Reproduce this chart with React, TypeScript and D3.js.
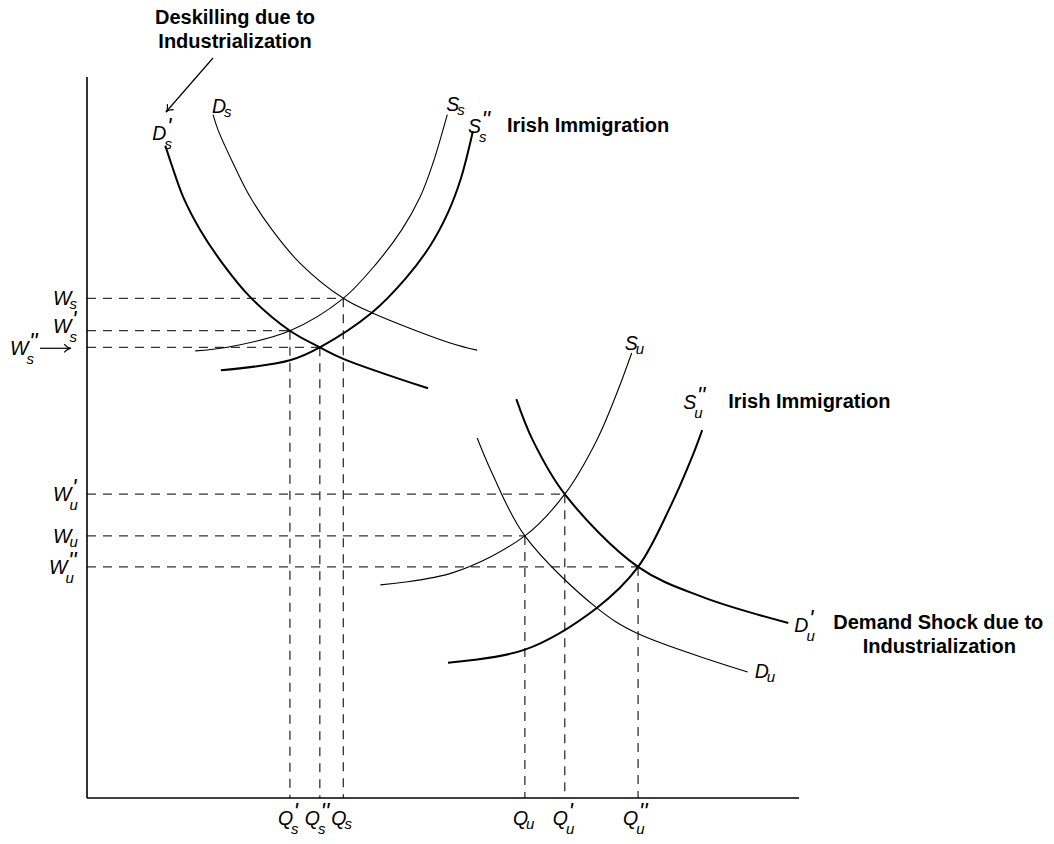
import React from 'react';
import * as d3 from 'd3';

// ---- Data (quantity q, wage w) in chart units 0..100 ----
const dsPrime: [number, number][] = [[11.0, 90.6], [11.8, 88.2], [13.5, 83.5], [15.9, 78.9], [19.0, 74.3], [22.9, 69.6], [28.5, 64.9], [32.7, 62.6], [36.0, 61.0], [47.9, 56.9]];
const ds: [number, number][] = [[17.7, 94.9], [18.4, 92.8], [20.5, 88.2], [22.9, 83.5], [26.0, 78.9], [29.9, 74.3], [36.0, 69.4], [40.0, 67.4], [51.0, 63.2], [54.8, 62.2]];
const ss: [number, number][] = [[15.2, 62.1], [19.7, 62.6], [28.5, 64.9], [36.0, 69.4], [40.7, 74.3], [44.2, 78.9], [46.8, 83.5], [48.6, 88.2], [50.0, 92.8], [50.6, 94.9]];
const ssDouble: [number, number][] = [[18.8, 59.4], [28.5, 60.8], [32.7, 62.6], [40.0, 67.4], [44.7, 72.1], [48.2, 76.7], [50.7, 81.3], [52.5, 86.0], [54.2, 92.6]];
const su: [number, number][] = [[41.2, 29.6], [51.4, 31.3], [61.5, 36.4], [67.1, 42.2], [71.6, 49.7], [74.6, 56.7], [76.5, 61.8]];
const suDouble: [number, number][] = [[50.7, 18.8], [61.5, 20.6], [71.6, 26.4], [77.4, 32.1], [81.9, 40.4], [85.0, 47.4], [86.4, 51.1]];
const du: [number, number][] = [[54.8, 50.0], [56.9, 45.1], [61.5, 36.4], [71.6, 26.4], [77.2, 22.9], [92.8, 17.5]];
const duPrime: [number, number][] = [[60.3, 55.4], [62.6, 49.7], [67.1, 42.2], [77.4, 32.1], [86.5, 27.9], [98.5, 24.3]];

// equilibria
const eqQuantity = [36.0, 28.5, 32.7, 61.5, 67.1, 77.4];
const eqWage = [69.4, 64.9, 62.6, 36.4, 42.2, 32.1];
const eqSub = ['s', 's', 's', 'u', 'u', 'u'];
const eqPrime = ['', "'", "''", '', "'", "''"];

const annotDeskilling = ['Deskilling due to', 'Industrialization'];
const annotDemand = ['Demand Shock due to', 'Industrialization'];
const annotIrish = 'Irish Immigration';

const W = 1054, H = 844;
const x = d3.scaleLinear().domain([0, 100]).range([87, 799]);
const y = d3.scaleLinear().domain([0, 100]).range([798, 78]);
const line = d3.line<[number, number]>().x(d => x(d[0])).y(d => y(d[1])).curve(d3.curveCatmullRom.alpha(0.5));

const MATH_FONT = 'Liberation Sans, Arial, sans-serif';
const BOLD_FONT = 'Liberation Sans, Arial, sans-serif';
const FS = 19.5;
const SUBFS = 15;
const letterW: Record<string, number> = { W: 0.944, D: 0.722, S: 0.667, Q: 0.778 };

function MathLabel({ px, py, main, sub, sup }: { px: number; py: number; main: string; sub?: string; sup?: string }) {
  const mw = letterW[main] * FS;
  return (
    <g fontFamily={MATH_FONT} fill="#000" fontStyle="italic">
      <text x={px} y={py} fontSize={FS}>{main}</text>
      {sub ? <text x={px + mw - 2} y={py + (sup ? 9 : 4)} fontSize={SUBFS}>{sub}</text> : null}
      {sup ? <text x={px + mw + 0.5} y={py - 5} fontSize={23}>{sup}</text> : null}
    </g>
  );
}

function Arrow({ x1, y1, x2, y2 }: { x1: number; y1: number; x2: number; y2: number }) {
  const ang = Math.atan2(y2 - y1, x2 - x1);
  const L = 8, a = 0.55;
  const p1 = [x2 - L * Math.cos(ang - a), y2 - L * Math.sin(ang - a)];
  const p2 = [x2 - L * Math.cos(ang + a), y2 - L * Math.sin(ang + a)];
  const c = [x2 - 3 * Math.cos(ang), y2 - 3 * Math.sin(ang)];
  return (
    <g stroke="#000" strokeWidth={1.2} fill="none">
      <line x1={x1} y1={y1} x2={x2} y2={y2} />
      <path d={`M${p1[0]},${p1[1]} Q${c[0]},${c[1]} ${x2},${y2} Q${c[0]},${c[1]} ${p2[0]},${p2[1]}`} />
    </g>
  );
}

type CurveDef = { pts: [number, number][]; thick: boolean; main: string; sub: string; sup?: string; end: 'start' | 'end'; dx: number; dy: number };
const curveDefs: CurveDef[] = [
  { pts: dsPrime, thick: true, main: 'D', sub: 's', sup: "'", end: 'start', dx: -13, dy: -6 },
  { pts: ds, thick: false, main: 'D', sub: 's', end: 'start', dx: -1, dy: -2 },
  { pts: ss, thick: false, main: 'S', sub: 's', end: 'end', dx: -1, dy: -4 },
  { pts: ssDouble, thick: true, main: 'S', sub: 's', sup: "''", end: 'end', dx: -5, dy: 2 },
  { pts: su, thick: false, main: 'S', sub: 'u', end: 'end', dx: -7, dy: -3 },
  { pts: suDouble, thick: true, main: 'S', sub: 'u', sup: "''", end: 'end', dx: -19, dy: -21 },
  { pts: du, thick: false, main: 'D', sub: 'u', end: 'end', dx: 7, dy: 6 },
  { pts: duPrime, thick: true, main: 'D', sub: 'u', sup: "'", end: 'end', dx: 6, dy: 9 },
];

export default function App() {
  const x0 = x(0), y0 = y(0);
  const ssEnd = ssDouble[ssDouble.length - 1];
  const suEnd = suDouble[suDouble.length - 1];
  const duEnd = duPrime[duPrime.length - 1];
  return (
    <svg width={W} height={H} style={{ position: 'absolute', left: 0, top: 0, background: '#fff' }}>
      <rect width={W} height={H} fill="#fff" />
      {/* dashed guides */}
      <g stroke="#333" strokeWidth={1.3} strokeDasharray="9,7" fill="none">
        {eqQuantity.map((q, i) => (
          <g key={i}>
            <line x1={x0} y1={y(eqWage[i])} x2={x(q)} y2={y(eqWage[i])} />
            <line x1={x(q)} y1={y(eqWage[i])} x2={x(q)} y2={y0} />
          </g>
        ))}
      </g>
      {/* curves */}
      {curveDefs.map((c, i) => (
        <path key={i} d={line(c.pts) || ''} fill="none" stroke="#000" strokeWidth={c.thick ? 2 : 1.1} />
      ))}
      {/* axes */}
      <line x1={x0} y1={y(100) - 1} x2={x0} y2={y0} stroke="#000" strokeWidth={1.6} />
      <line x1={x0} y1={y0} x2={x(100)} y2={y0} stroke="#000" strokeWidth={1.6} />
      {/* curve labels */}
      {curveDefs.map((c, i) => {
        const p = c.end === 'start' ? c.pts[0] : c.pts[c.pts.length - 1];
        return <MathLabel key={i} px={x(p[0]) + c.dx} py={y(p[1]) + c.dy} main={c.main} sub={c.sub} sup={c.sup} />;
      })}
      {/* axis labels: wages */}
      {eqWage.map((w, i) => {
        if (i === 2) return null;
        const dbl = eqPrime[i] === "''";
        const off = i === 1 ? 2 : 7;
        return <MathLabel key={'w' + i} px={x0 - (dbl ? 38 : 34)} py={y(w) + off} main="W" sub={eqSub[i]} sup={eqPrime[i] || undefined} />;
      })}
      <MathLabel px={10} py={y(eqWage[2]) + 8} main="W" sub={eqSub[2]} sup={eqPrime[2]} />
      <Arrow x1={40} y1={y(eqWage[2]) + 1} x2={71} y2={y(eqWage[2]) + 1} />
      {/* axis labels: quantities */}
      {eqQuantity.map((q, i) => {
        const dbl = eqPrime[i] === "''";
        return <MathLabel key={'q' + i} px={x(q) - (dbl ? 15 : 12)} py={y0 + 27} main="Q" sub={eqSub[i]} sup={eqPrime[i] || undefined} />;
      })}
      {/* annotations */}
      <g fontFamily={BOLD_FONT} fontWeight="bold" fontSize={20} fill="#000" textAnchor="middle">
        <text x={235} y={24}>{annotDeskilling[0]}</text>
        <text x={235} y={48}>{annotDeskilling[1]}</text>
        <text x={x(duEnd[0]) + 150} y={y(duEnd[1]) + 6}>{annotDemand[0]}</text>
        <text x={x(duEnd[0]) + 151} y={y(duEnd[1]) + 30}>{annotDemand[1]}</text>
      </g>
      <g fontFamily={BOLD_FONT} fontWeight="bold" fontSize={20} fill="#000">
        <text x={x(ssEnd[0]) + 34} y={y(ssEnd[1]) + 1}>{annotIrish}</text>
        <text x={x(suEnd[0]) + 26} y={y(suEnd[1]) - 22}>{annotIrish}</text>
      </g>
      <Arrow x1={213} y1={58} x2={166} y2={112} />
    </svg>
  );
}
